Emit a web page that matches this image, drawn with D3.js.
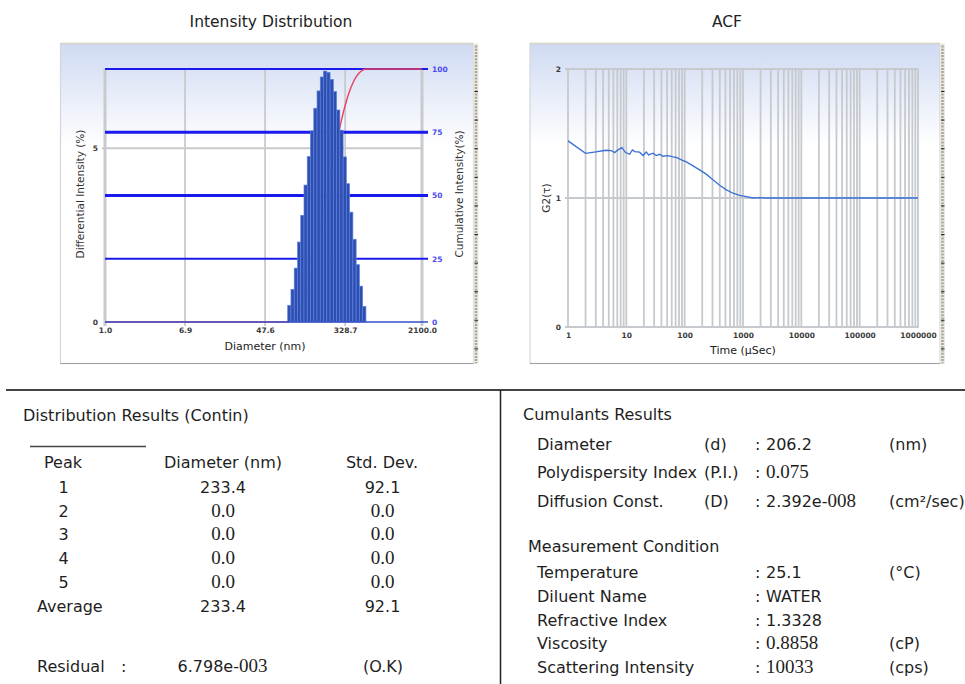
<!DOCTYPE html>
<html>
<head>
<meta charset="utf-8">
<script src="https://cdn.jsdelivr.net/npm/d3@7"></script>
<style>
  body { margin: 0; background: #fff; }
  svg { display: block; }
  text { font-family: "DejaVu Sans", sans-serif; }
</style>
</head>
<body>
<div id="vis"></div>
<script>
// ---- data ----
// intensity distribution (Contin), log-spaced size bins in nm
const sizeBinEdges = [82.2, 88.9, 96.2, 104.1, 112.6, 121.8, 131.7, 142.5, 154.2, 166.8, 180.4, 195.2,
  211.2, 228.4, 247.1, 267.3, 289.2, 312.9, 338.5, 366.1, 396.1, 428.5, 463.5, 501.5, 542.5];
const intensityPct = [0.48, 0.94, 1.55, 2.3, 3.07, 3.94, 4.76, 5.5, 6.15, 6.65, 7.05, 7.22,
  7.18, 6.98, 6.63, 6.1, 5.52, 4.75, 3.98, 3.16, 2.38, 1.65, 1.03, 0.45];
const diamTicks = [1, 6.9, 47.6, 328.7, 2100];
const diamTickLabels = ["1.0", "6.9", "47.6", "328.7", "2100.0"];
const diffTicks = [0, 5];
const cumTicks = [0, 25, 50, 75, 100];

// auto-correlation function
const acfTime = [1, 2, 3, 4.5, 5.5, 6.3, 7.2, 8.4, 9.7, 11.4, 12.7, 13.9, 16.9, 19.3, 22, 24, 28.6,
  32.6, 37.2, 42.4, 51.8, 63, 72, 87.8, 107, 139, 180, 234, 305, 398, 520, 674, 876, 1140, 1480,
  1930, 2500, 5000, 20000, 100000, 500000, 1000000];
const acfG2 = [1.443, 1.346, 1.357, 1.37, 1.368, 1.352, 1.373, 1.39, 1.352, 1.339, 1.373, 1.36,
  1.355, 1.329, 1.357, 1.334, 1.347, 1.329, 1.339, 1.324, 1.329, 1.319, 1.314, 1.295, 1.28, 1.249,
  1.218, 1.185, 1.141, 1.099, 1.063, 1.037, 1.021, 1.01, 1.0, 1.003, 1.0, 1.0, 1.0, 1.0, 1.0, 1.0];
const timeTicks = [1, 10, 100, 1000, 10000, 100000, 1000000];
const g2Ticks = [0, 1, 2];

// result tables
const peakNames = ["1", "2", "3", "4", "5", "Average"];
const peakDiam = ["233.4", "0.0", "0.0", "0.0", "0.0", "233.4"];
const peakStd = ["92.1", "0.0", "0.0", "0.0", "0.0", "92.1"];
const residual = "6.798e-003";

const cumLabels = ["Diameter", "Polydispersity Index", "Diffusion Const."];
const cumSymbols = ["(d)", "(P.I.)", "(D)"];
const cumValues = ["206.2", "0.075", "2.392e-008"];
const cumUnits = ["(nm)", "", "(cm²/sec)"];

const measLabels = ["Temperature", "Diluent Name", "Refractive Index", "Viscosity", "Scattering Intensity"];
const measValues = ["25.1", "WATER", "1.3328", "0.8858", "10033"];
const measUnits = ["(°C)", "", "", "(cP)", "(cps)"];

// ---- svg ----
const width = 965, height = 684;
const svg = d3.select("#vis").append("svg")
  .attr("width", width).attr("height", height)
  .style("background", "white");

const grad = svg.append("defs").append("linearGradient")
  .attr("id", "panelBg").attr("x1", 0).attr("y1", 0).attr("x2", 0).attr("y2", 1);
grad.append("stop").attr("offset", "0%").attr("stop-color", "#cfdaf2");
grad.append("stop").attr("offset", "32%").attr("stop-color", "#ffffff");

function drawPanel(x, y, w, h) {
  svg.append("rect").attr("x", x).attr("y", y).attr("width", w).attr("height", h)
    .attr("fill", "url(#panelBg)").attr("stroke", "#d4d6dc").attr("stroke-width", 1.2);
  svg.append("line").attr("x1", x).attr("x2", x + w).attr("y1", y).attr("y2", y)
    .attr("stroke", "#d8d4c2").attr("stroke-width", 1.5);
  svg.append("line").attr("x1", x).attr("x2", x + w).attr("y1", y + h).attr("y2", y + h)
    .attr("stroke", "#9da0a4").attr("stroke-width", 1.2);
  // scrollbar-like strip on the right edge
  svg.append("rect").attr("x", x + w).attr("y", y).attr("width", 5).attr("height", h)
    .attr("fill", "#ece9de");
  svg.append("line").attr("x1", x + w + 2.5).attr("x2", x + w + 2.5).attr("y1", y + 2).attr("y2", y + h)
    .attr("stroke", "#a8a69c").attr("stroke-width", 2.5).attr("stroke-dasharray", "2,1.2");
  for (let ty = y + 48; ty < y + h; ty += 28.6) {
    svg.append("line").attr("x1", x + w + 1).attr("x2", x + w + 4.5).attr("y1", ty).attr("y2", ty)
      .attr("stroke", "#222").attr("stroke-width", 1);
  }
}

function styleAxis(g, color) {
  g.select(".domain").remove();
  g.selectAll("text").style("font-size", "7.5px").style("font-family", "DejaVu Sans")
    .style("font-weight", "bold").attr("fill", color || "#3a3a3a");
}

// ---- Intensity Distribution ----
drawPanel(60.5, 43.5, 413, 320);

svg.append("text").attr("x", 271).attr("y", 27).attr("text-anchor", "middle")
  .style("font-size", "15.5px").attr("fill", "#222").text("Intensity Distribution");

const xL = d3.scaleLog().domain([1, 2100]).range([105, 422]);
const yL = d3.scaleLinear().domain([0, 7.28]).range([322, 69]);
const yR = d3.scaleLinear().domain([0, 100]).range([322, 69]);

// gray grid
svg.append("g").selectAll("line").data(diamTicks).enter().append("line")
  .attr("x1", d => xL(d)).attr("x2", d => xL(d))
  .attr("y1", 69).attr("y2", 326)
  .attr("stroke", "#c8cacd")
  .attr("stroke-width", (d, i) => (i === 0 || i === diamTicks.length - 1) ? 3 : 1.8);
svg.append("g").selectAll("line").data(diffTicks.filter(d => d > 0)).enter().append("line")
  .attr("x1", 102).attr("x2", 422)
  .attr("y1", d => yL(d)).attr("y2", d => yL(d))
  .attr("stroke", "#c8cacd").attr("stroke-width", 2);

// blue cumulative grid
svg.append("g").selectAll("line").data(cumTicks.filter(d => d > 0)).enter().append("line")
  .attr("x1", 105).attr("x2", 428)
  .attr("y1", d => yR(d)).attr("y2", d => yR(d))
  .attr("stroke", "#1a1aee")
  .attr("stroke-width", d => (d === 50 || d === 75) ? 3 : 1.8);

// cumulative curve (derived from the histogram)
const total = d3.sum(intensityPct);
const cum = Array.from(d3.cumsum(intensityPct), v => v / total * 100);
const cumPts = [[1, 0], [sizeBinEdges[0], 0]]
  .concat(cum.map((v, i) => [sizeBinEdges[i + 1], v]))
  .concat([[2100, 100]]);
svg.append("path").datum(cumPts)
  .attr("fill", "none").attr("stroke", "#e8405e").attr("stroke-width", 1.4)
  .attr("d", d3.line().x(d => xL(d[0])).y(d => yR(d[1])).curve(d3.curveMonotoneX));

// histogram bars
svg.append("g").selectAll("rect").data(intensityPct).enter().append("rect")
  .attr("x", (d, i) => xL(sizeBinEdges[i]))
  .attr("width", (d, i) => xL(sizeBinEdges[i + 1]) - xL(sizeBinEdges[i]))
  .attr("y", d => yL(d))
  .attr("height", d => yL(0) - yL(d))
  .attr("fill", "#2f4fae").attr("stroke", "#5b7fe4").attr("stroke-width", 0.7);

// zero line
svg.append("line").attr("x1", 105).attr("x2", 428).attr("y1", yR(0)).attr("y2", yR(0))
  .attr("stroke", "#3550c8").attr("stroke-width", 1.4);

svg.append("g").attr("transform", "translate(0,322)")
  .call(d3.axisBottom(xL).tickValues(diamTicks).tickFormat((d, i) => diamTickLabels[i])
    .tickSize(0).tickPadding(6))
  .call(g => styleAxis(g));
svg.append("g").attr("transform", "translate(105,0)")
  .call(d3.axisLeft(yL).tickValues(diffTicks).tickSize(0).tickPadding(7))
  .call(g => styleAxis(g));
svg.append("g").attr("transform", "translate(422,0)")
  .call(d3.axisRight(yR).tickValues(cumTicks).tickSize(0).tickPadding(10))
  .call(g => styleAxis(g, "#4a4af0"));

svg.append("text").attr("x", 265).attr("y", 350).attr("text-anchor", "middle")
  .style("font-size", "11px").attr("fill", "#222").text("Diameter (nm)");
svg.append("text").attr("transform", "translate(84,194) rotate(-90)").attr("text-anchor", "middle")
  .style("font-size", "10.5px").attr("fill", "#333").text("Differential Intensity (%)");
svg.append("text").attr("transform", "translate(463,194) rotate(-90)").attr("text-anchor", "middle")
  .style("font-size", "10.5px").attr("fill", "#333").text("Cumulative Intensity(%)");

// ---- ACF ----
drawPanel(530, 43.5, 410, 320);

svg.append("text").attr("x", 727).attr("y", 27).attr("text-anchor", "middle")
  .style("font-size", "15.5px").attr("fill", "#222").text("ACF");

const xA = d3.scaleLog().domain([1, 1e6]).range([568, 918]);
const yA = d3.scaleLinear().domain([0, 2]).range([327, 69]);

svg.append("g").selectAll("line").data(xA.ticks()).enter().append("line")
  .attr("x1", d => xA(d)).attr("x2", d => xA(d))
  .attr("y1", 69).attr("y2", 328)
  .attr("stroke", "#c6c9cd").attr("stroke-width", 1.8);
svg.append("g").selectAll("line").data(g2Ticks).enter().append("line")
  .attr("x1", 565).attr("x2", 918)
  .attr("y1", d => yA(d)).attr("y2", d => yA(d))
  .attr("stroke", "#c6c9cd").attr("stroke-width", 2);

svg.append("path").datum(acfTime.map((t, i) => [t, acfG2[i]]))
  .attr("fill", "none").attr("stroke", "#3a6fd4").attr("stroke-width", 1.3)
  .attr("d", d3.line().x(d => xA(d[0])).y(d => yA(d[1])));

svg.append("g").attr("transform", "translate(0,327)")
  .call(d3.axisBottom(xA).tickValues(timeTicks).tickFormat(d3.format("d")).tickSize(0).tickPadding(6))
  .call(g => styleAxis(g));
svg.append("g").attr("transform", "translate(568,0)")
  .call(d3.axisLeft(yA).tickValues(g2Ticks).tickFormat(d3.format("d")).tickSize(0).tickPadding(7))
  .call(g => styleAxis(g));

svg.append("text").attr("x", 743).attr("y", 354).attr("text-anchor", "middle")
  .style("font-size", "11px").attr("fill", "#222").text("Time (μSec)");
svg.append("text").attr("transform", "translate(550,198) rotate(-90)").attr("text-anchor", "middle")
  .style("font-size", "10.5px").attr("fill", "#333").text("G2(τ)");

// ---- result tables ----
svg.append("line").attr("x1", 6).attr("x2", 965).attr("y1", 390).attr("y2", 390)
  .attr("stroke", "#444").attr("stroke-width", 2);
svg.append("line").attr("x1", 500.5).attr("x2", 500.5).attr("y1", 390).attr("y2", 684)
  .attr("stroke", "#222").attr("stroke-width", 1.5);

const tbl = svg.append("g").style("font-size", "16px").attr("fill", "#1e1e1e");

// some numbers in the report print in a serif face
const serifStyle = t => t.style("font-family", "'Liberation Serif', serif").style("font-size", "19px");
function addValue(x, y, str, anchor) {
  const t = tbl.append("text").attr("x", x).attr("y", y).attr("text-anchor", anchor || "start");
  const m = str.match(/^(.*e-)(\d+)$/);
  if (m) {
    t.append("tspan").text(m[1]);
    t.append("tspan").call(serifStyle).text(m[2]);
  } else if (/^0\.|00/.test(str)) {
    t.call(serifStyle).text(str);
  } else {
    t.text(str);
  }
  return t;
}

tbl.append("text").attr("x", 23).attr("y", 421).text("Distribution Results (Contin)");
svg.append("line").attr("x1", 30).attr("x2", 146).attr("y1", 446.5).attr("y2", 446.5)
  .attr("stroke", "#444").attr("stroke-width", 1.5);
tbl.append("text").attr("x", 44).attr("y", 468).text("Peak");
tbl.append("text").attr("x", 223).attr("y", 468).attr("text-anchor", "middle").text("Diameter (nm)");
tbl.append("text").attr("x", 382).attr("y", 468).attr("text-anchor", "middle").text("Std. Dev.");

peakNames.forEach((p, i) => {
  const y = 492.7 + i * 23.8;
  if (p === "Average") tbl.append("text").attr("x", 37).attr("y", y).text(p);
  else tbl.append("text").attr("x", 63.5).attr("y", y).attr("text-anchor", "middle").text(p);
  addValue(223, y, peakDiam[i], "middle");
  addValue(382.5, y, peakStd[i], "middle");
});

tbl.append("text").attr("x", 37).attr("y", 671.5).text("Residual");
tbl.append("text").attr("x", 121).attr("y", 671.5).text(":");
addValue(222.5, 671.5, residual, "middle");
tbl.append("text").attr("x", 383).attr("y", 671.5).attr("text-anchor", "middle").text("(O.K)");

tbl.append("text").attr("x", 523).attr("y", 420).text("Cumulants Results");
cumLabels.forEach((lab, i) => {
  const y = 450 + i * 28.3;
  tbl.append("text").attr("x", 537).attr("y", y).text(lab);
  tbl.append("text").attr("x", 704).attr("y", y).text(cumSymbols[i]);
  tbl.append("text").attr("x", 755).attr("y", y).text(":");
  addValue(766, y, cumValues[i]);
  if (cumUnits[i]) tbl.append("text").attr("x", 889).attr("y", y).text(cumUnits[i]);
});

tbl.append("text").attr("x", 528).attr("y", 552).text("Measurement Condition");
measLabels.forEach((lab, i) => {
  const y = 578.3 + i * 23.6;
  tbl.append("text").attr("x", 537).attr("y", y).text(lab);
  tbl.append("text").attr("x", 755).attr("y", y).text(":");
  addValue(766, y, measValues[i]);
  if (measUnits[i]) tbl.append("text").attr("x", 889).attr("y", y).text(measUnits[i]);
});
</script>
</body>
</html>
